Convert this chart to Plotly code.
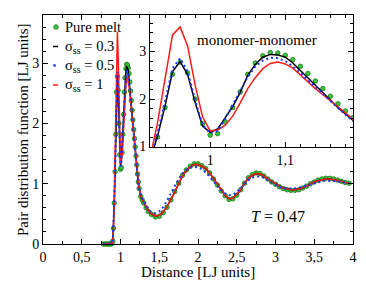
import plotly.graph_objects as go

# Distance grid (LJ units)
r = [0.78, 0.80, 0.82, 0.84, 0.86, 0.88, 0.89, 0.90, 0.91,
     0.92, 0.93, 0.94, 0.95, 0.96, 0.97, 0.98, 0.99, 1.00, 1.01, 1.02,
     1.03, 1.04, 1.05, 1.06, 1.07, 1.08, 1.09, 1.10, 1.11, 1.12, 1.13,
     1.14, 1.15, 1.16, 1.17, 1.18, 1.19, 1.20, 1.21, 1.22, 1.23, 1.24,
     1.26, 1.28, 1.30, 1.33, 1.36, 1.40,
     1.45, 1.50, 1.55, 1.60, 1.65, 1.70, 1.75, 1.80, 1.85, 1.90,
     1.95, 2.00, 2.05, 2.10, 2.15, 2.20, 2.25, 2.30, 2.35, 2.40,
     2.45, 2.50, 2.55, 2.60, 2.65, 2.70, 2.75, 2.80, 2.85, 2.90,
     2.95, 3.00, 3.05, 3.10, 3.15, 3.20, 3.25, 3.30, 3.35, 3.40,
     3.45, 3.50, 3.55, 3.60, 3.65, 3.70, 3.75, 3.80, 3.85, 3.90,
     3.95]

# Pure melt (green circles)
g_pure = [0, 0, 0, 0, 0, 0, 0.01, 0.05, 0.26,
          0.68, 1.20, 1.82, 2.52, 2.78, 2.55, 2.00, 1.48, 1.24, 1.27, 1.52,
          1.82, 2.15, 2.52, 2.76, 2.91, 2.98, 2.97, 2.92, 2.83, 2.69, 2.54,
          2.38, 2.22, 2.06, 1.90, 1.75, 1.61, 1.46, 1.31, 1.16, 1.03, 0.92,
          0.79, 0.73, 0.68, 0.60, 0.54, 0.49,
          0.45, 0.46, 0.52, 0.61, 0.73, 0.87, 1.01, 1.14, 1.23, 1.29,
          1.33, 1.33, 1.30, 1.25, 1.18, 1.08, 0.98, 0.88, 0.80, 0.74,
          0.75, 0.81, 0.90, 1.01, 1.10, 1.15, 1.18, 1.17, 1.13, 1.08,
          1.03, 0.99, 0.95, 0.92, 0.90, 0.89, 0.89, 0.90, 0.93, 0.96,
          1.00, 1.03, 1.06, 1.08, 1.09, 1.09, 1.08, 1.06, 1.04, 1.02,
          1.01]

# sigma_ss = 0.3 (black line)
g_s03 = [0, 0, 0, 0, 0, 0, 0.01, 0.06, 0.28,
         0.70, 1.22, 1.85, 2.58, 2.79, 2.52, 1.93, 1.43, 1.30, 1.37, 1.60,
         1.84, 2.14, 2.50, 2.73, 2.88, 2.94, 2.93, 2.88, 2.76, 2.60, 2.45,
         2.29, 2.14, 1.98, 1.82, 1.68, 1.56, 1.42, 1.28, 1.14, 1.02, 0.92,
         0.80, 0.74, 0.69, 0.62, 0.55, 0.50,
         0.465, 0.475, 0.53, 0.62, 0.73, 0.86, 1.00, 1.13, 1.22, 1.28,
         1.32, 1.32, 1.29, 1.25, 1.18, 1.09, 0.99, 0.89, 0.81, 0.75,
         0.76, 0.82, 0.90, 1.01, 1.09, 1.14, 1.17, 1.16, 1.13, 1.08,
         1.04, 0.99, 0.96, 0.93, 0.91, 0.90, 0.90, 0.91, 0.93, 0.96,
         1.00, 1.03, 1.05, 1.07, 1.08, 1.08, 1.07, 1.06, 1.04, 1.02,
         1.01]

# sigma_ss = 0.5 (blue dots)
g_s05 = [0, 0, 0, 0, 0, 0, 0.01, 0.07, 0.30,
         0.75, 1.28, 1.95, 2.65, 2.86, 2.58, 1.98, 1.45, 1.28, 1.33, 1.58,
         1.88, 2.18, 2.47, 2.68, 2.81, 2.87, 2.86, 2.80, 2.69, 2.55, 2.41,
         2.26, 2.11, 1.96, 1.81, 1.67, 1.54, 1.40, 1.26, 1.12, 1.00, 0.91,
         0.82, 0.76, 0.71, 0.64, 0.58, 0.53,
         0.51, 0.54, 0.61, 0.72, 0.84, 0.97, 1.08, 1.17, 1.23, 1.27,
         1.28, 1.27, 1.24, 1.19, 1.12, 1.04, 0.96, 0.89, 0.84, 0.81,
         0.82, 0.86, 0.93, 1.00, 1.06, 1.10, 1.12, 1.12, 1.10, 1.06,
         1.02, 0.98, 0.95, 0.93, 0.92, 0.92, 0.92, 0.93, 0.95, 0.97,
         0.99, 1.01, 1.03, 1.04, 1.05, 1.05, 1.05, 1.04, 1.03, 1.02,
         1.01]

# sigma_ss = 1 (red line)
g_s1 = [0, 0, 0, 0, 0, 0, 0.01, 0.05, 0.24,
        0.75, 1.50, 2.45, 3.35, 3.52, 3.12, 2.30, 1.62, 1.33, 1.35, 1.45,
        1.64, 1.92, 2.22, 2.45, 2.64, 2.75, 2.78, 2.74, 2.65, 2.51, 2.36,
        2.22, 2.09, 1.97, 1.84, 1.71, 1.57, 1.44, 1.30, 1.16, 1.03, 0.93,
        0.81, 0.74, 0.69, 0.62, 0.55, 0.50,
        0.465, 0.475, 0.53, 0.62, 0.73, 0.86, 1.00, 1.13, 1.22, 1.28,
        1.32, 1.32, 1.29, 1.25, 1.18, 1.09, 0.99, 0.89, 0.81, 0.75,
        0.76, 0.82, 0.90, 1.01, 1.09, 1.14, 1.17, 1.16, 1.13, 1.08,
        1.04, 0.99, 0.96, 0.93, 0.91, 0.90, 0.90, 0.91, 0.93, 0.96,
        1.00, 1.03, 1.05, 1.07, 1.08, 1.08, 1.07, 1.06, 1.04, 1.02,
        1.01]

main_xticks = [0, 0.5, 1, 1.5, 2, 2.5, 3, 3.5, 4]
inset_yticks = [1, 2, 3]
legend_labels = ["Pure melt", "σ<sub>ss</sub> = 0.3", "σ<sub>ss</sub> = 0.5", "σ<sub>ss</sub> = 1"]

FONT = "Liberation Serif"
GREEN_FILL = "#3cc43c"
GREEN_EDGE = "#147a14"
BLUE = "#1a35ff"
RED = "#ff1a1a"

fig = go.Figure()


def add_set(xa, ya, main):
    fig.add_trace(go.Scatter(x=r, y=g_pure, mode="markers", xaxis=xa, yaxis=ya,
                             marker=dict(symbol="circle", size=4.5, color=GREEN_FILL,
                                         line=dict(color=GREEN_EDGE, width=0.8)),
                             cliponaxis=not main, showlegend=False))
    fig.add_trace(go.Scatter(x=r, y=g_s03, mode="lines", xaxis=xa, yaxis=ya,
                             line=dict(color="black", width=1.5), showlegend=False))
    fig.add_trace(go.Scatter(x=r, y=g_s1, mode="lines", xaxis=xa, yaxis=ya,
                             line=dict(color=RED, width=1.5), showlegend=False))
    fig.add_trace(go.Scatter(x=r, y=g_s05, mode="lines", xaxis=xa, yaxis=ya,
                             line=dict(color=BLUE, width=2, dash="2px,3px"),
                             showlegend=False))


add_set("x", "y", True)
add_set("x2", "y2", False)

# pixel -> paper helpers for the main plot area (43..353 x 15..244)
def px(v):
    return (v - 43) / 310.0


def py(v):
    return (244 - v) / 229.0


common = dict(showline=True, linecolor="black", linewidth=1, mirror="ticks",
              ticks="inside", ticklen=5, tickwidth=1, tickcolor="black",
              showgrid=False, zeroline=False, automargin=False,
              tickfont=dict(family=FONT, size=14, color="black"))
minor_common = dict(ticks="inside", ticklen=3, tickwidth=1, tickcolor="black", showgrid=False)

fig.update_layout(
    width=366, height=295,
    margin=dict(l=43, r=13, t=15, b=51, autoexpand=False),
    paper_bgcolor="white", plot_bgcolor="white",
    separators=",.",
    showlegend=False,
    font=dict(family=FONT, size=14, color="black"),
    xaxis=dict(domain=[0, 1], range=[0, 4], tickmode="array", tickvals=main_xticks,
               minor=dict(dtick=0.25, **minor_common), anchor="y", **common),
    yaxis=dict(domain=[0, 1], range=[0, 3.8], tick0=0, dtick=1,
               minor=dict(dtick=0.2, **minor_common), anchor="x", **common),
    xaxis2=dict(domain=[px(150), 1], range=[0.92, 1.19], tick0=1, dtick=0.1,
                minor=dict(dtick=0.02, **minor_common), anchor="y2", **common),
    yaxis2=dict(domain=[py(147), 1], range=[0.99, 3.77], tickmode="array",
                tickvals=inset_yticks,
                minor=dict(tick0=1, dtick=0.2, **minor_common), anchor="x2", **common),
)

ann = [
    dict(text="Distance [LJ units]", x=px(198), y=py(272), xanchor="center", yanchor="middle",
         font=dict(size=15)),
    dict(text="Pair distribution function [LJ units]", x=px(23), y=py(130), textangle=-90,
         xanchor="center", yanchor="middle", font=dict(size=15)),
    dict(text="monomer-monomer", x=px(257), y=py(40), xanchor="center", yanchor="middle",
         font=dict(size=15)),
    dict(text="<i>T</i> = 0.47", x=px(278), y=py(216), xanchor="center", yanchor="middle",
         font=dict(size=16)),
]
leg_y = [27, 47, 66, 85]
for lab, yy in zip(legend_labels, leg_y):
    ann.append(dict(text=lab, x=px(63), y=py(yy), xanchor="left", yanchor="middle",
                    font=dict(size=14.5)))
for a in ann:
    a.update(xref="paper", yref="paper", showarrow=False)
fig.update_layout(annotations=ann)

shapes = [
    dict(type="circle", xref="paper", yref="paper", xsizemode="pixel", ysizemode="pixel",
         xanchor=px(56), yanchor=py(27), x0=-2.3, x1=2.3, y0=-2.3, y1=2.3,
         fillcolor=GREEN_FILL, line=dict(color=GREEN_EDGE, width=0.8)),
    dict(type="line", xref="paper", yref="paper", x0=px(53), x1=px(58),
         y0=py(46.5), y1=py(46.5), line=dict(color="black", width=1.5)),
    dict(type="rect", xref="paper", yref="paper", xsizemode="pixel", ysizemode="pixel",
         xanchor=px(54.5), yanchor=py(65.5), x0=-1.2, x1=1.2, y0=-1.2, y1=1.2,
         fillcolor=BLUE, line=dict(width=0)),
    dict(type="line", xref="paper", yref="paper", x0=px(53), x1=px(58),
         y0=py(85), y1=py(85), line=dict(color=RED, width=1.5)),
]
fig.update_layout(shapes=shapes)

fig.write_html("out.html", config={"displayModeBar": False},
               post_script="document.body.style.margin='0';document.body.style.overflow='hidden';")
